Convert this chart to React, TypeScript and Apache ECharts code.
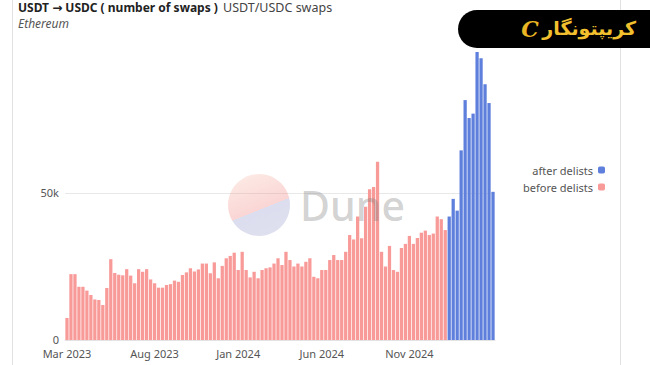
import React, { useEffect, useRef } from 'react';
import * as echarts from 'echarts';

// Weekly buckets (week start dates)
const firstWeek = '2023-02-27';
const weekCount = 108;

// Number of USDT -> USDC swaps per week
const beforeDelists = [
  7500, 22400, 22400, 18100, 18100, 16800, 15300, 13800, 13600, 11900,
  17700, 27500, 22800, 22200, 22000, 24100, 21900, 19300, 24100, 23200,
  24100, 20600, 19300, 17800, 17800, 18700, 19000, 20200, 19800, 22100,
  23000, 24400, 23300, 24000, 26000, 26000, 22700, 26400, 21000, 25200,
  27800, 28600, 29700, 23800, 30000, 23800, 21300, 23200, 21000, 23800,
  24400, 24700, 26000, 27800, 25500, 30000, 27200, 25000, 26000, 25000,
  26600, 27800, 21500, 21000, 23800, 23800, 27200, 28900, 27200, 27200,
  30000, 35700, 34200, 42000, 34600, 45300, 51300, 52000, 60600, 30000,
  25000, 32000, 23800, 23200, 31300, 32700, 35400, 32700, 34700, 36500,
  37200, 35700, 36200, 42000, 41100, 37400,
];
const afterDelists = [42000, 48000, 44000, 64500, 81600, 75500, 77000, 98000, 95800, 87000, 80600, 50400];

// x tick labels
const tickIndices = [0, 22, 43, 64, 86];
const tickLabels = ['Mar 2023', 'Aug 2023', 'Jan 2024', 'Jun 2024', 'Nov 2024'];
// y tick labels
const yTickValues = [0, 50000];
const yTickLabels = ['0', '50k'];

const seriesNames = ['after delists', 'before delists'];
const colors = { after: '#5E7FDC', before: '#F89A98' };

const FONT = '"Noto Sans", "DejaVu Sans", sans-serif';

function buildWeeks(): string[] {
  const start = new Date(firstWeek + 'T00:00:00Z').getTime();
  const out: string[] = [];
  for (let i = 0; i < weekCount; i++) {
    const d = new Date(start + i * 7 * 86400000);
    out.push(d.toISOString().slice(0, 10));
  }
  return out;
}

export default function App() {
  const ref = useRef<HTMLDivElement>(null);

  useEffect(() => {
    if (!ref.current) return;
    const chart = echarts.init(ref.current, null, { renderer: 'svg' });
    const weeks = buildWeeks();
    const nBefore = beforeDelists.length;
    const beforeData = weeks.map((_, i) => (i < nBefore ? beforeDelists[i] : '-'));
    const afterData = weeks.map((_, i) => (i >= nBefore && i - nBefore < afterDelists.length ? afterDelists[i - nBefore] : '-'));

    chart.setOption({
      animation: false,
      backgroundColor: '#ffffff',
      textStyle: { fontFamily: FONT },
      grid: { left: 65, right: 155, top: 46, bottom: 25, containLabel: false },
      legend: {
        data: seriesNames,
        orient: 'vertical',
        right: 40,
        top: 159,
        align: 'right',
        icon: 'roundRect',
        itemWidth: 7,
        itemHeight: 7,
        itemGap: 5,
        textStyle: { fontSize: 11, color: '#555', fontFamily: FONT, lineHeight: 12 },
        selectedMode: false,
      },
      xAxis: {
        type: 'category',
        data: weeks,
        axisTick: { show: false },
        axisLine: { show: true, lineStyle: { color: '#e3e3e3' } },
        axisLabel: {
          interval: (index: number) => tickIndices.includes(index),
          formatter: (_v: string, index: number) => {
            const k = tickIndices.indexOf(index);
            return k >= 0 ? tickLabels[k] : '';
          },
          fontSize: 11,
          color: '#555',
          margin: 8,
          fontFamily: FONT,
          hideOverlap: false,
        },
        splitLine: { show: false },
      },
      yAxis: {
        type: 'value',
        min: 0,
        max: 100000,
        interval: 50000,
        axisLine: { show: false },
        axisTick: { show: false },
        splitLine: { show: true, showMinLine: false, showMaxLine: false, lineStyle: { color: '#e8e8e8', width: 1 } },
        axisLabel: {
          fontSize: 11,
          color: '#555',
          margin: 6,
          fontFamily: FONT,
          verticalAlign: 'bottom',
          formatter: (v: number) => {
            const k = yTickValues.indexOf(v);
            return k >= 0 ? yTickLabels[k] : '';
          },
          padding: [0, 0, -5, 0],
        },
      },
      series: [
        {
          name: seriesNames[0],
          type: 'bar',
          stack: 'swaps',
          data: afterData,
          itemStyle: { color: colors.after },
          barCategoryGap: '18%',
        },
        {
          name: seriesNames[1],
          type: 'bar',
          stack: 'swaps',
          data: beforeData,
          itemStyle: { color: colors.before },
          barCategoryGap: '18%',
        },
      ],
      graphic: [
        // card frame lines
        { type: 'line', z: 1, shape: { x1: 12.5, y1: 0, x2: 12.5, y2: 365 }, style: { stroke: '#e2e2e2', lineWidth: 1 } },
        { type: 'line', z: 1, shape: { x1: 620.5, y1: 0, x2: 620.5, y2: 365 }, style: { stroke: '#e2e2e2', lineWidth: 1 } },
        // titles
        {
          type: 'text', x: 18, y: 7, z: 10,
          style: { text: 'USDT → USDC ( number of swaps )', fontSize: 12, fontWeight: 'bold', fontFamily: FONT, fill: '#222', verticalAlign: 'middle' },
        },
        {
          type: 'text', x: 223, y: 7, z: 10,
          style: { text: 'USDT/USDC swaps', fontSize: 12.5, fontFamily: FONT, fill: '#444', verticalAlign: 'middle' },
        },
        {
          type: 'text', x: 18, y: 23, z: 10,
          style: { text: 'Ethereum', fontSize: 12, fontStyle: 'italic', fontFamily: FONT, fill: '#555', verticalAlign: 'middle' },
        },
        // Dune watermark
        {
          type: 'circle', z: 100,
          shape: { cx: 259, cy: 205, r: 31 },
          style: {
            opacity: 0.28,
            fill: new echarts.graphic.LinearGradient(0.3, 0, 0.7, 1, [
              { offset: 0, color: '#f7b29f' },
              { offset: 0.57, color: '#ec6a66' },
              { offset: 0.57, color: '#8088c4' },
              { offset: 1, color: '#8a90c8' },
            ]),
          },
        },
        {
          type: 'text', x: 300, y: 205, z: 100,
          style: { text: 'Dune', fontSize: 41, fontWeight: 500, fontFamily: FONT, fill: '#777', opacity: 0.32, verticalAlign: 'middle' },
        },
        // logo badge
        {
          type: 'rect', z: 200,
          shape: { x: 458, y: 10, width: 220, height: 38, r: 19 },
          style: { fill: '#000' },
        },
        {
          type: 'text', x: 530, y: 29, z: 201,
          style: { text: 'C', fontSize: 22, fontWeight: 'bold', fontStyle: 'italic', fontFamily: '"DejaVu Serif", serif', fill: '#E9B523', align: 'center', verticalAlign: 'middle' },
        },
        {
          type: 'text', x: 636, y: 28, z: 201,
          style: { text: 'کریپتونگار', fontSize: 19, fontWeight: 'bold', fontFamily: '"DejaVu Sans", sans-serif', fill: '#F2C02E', align: 'right', verticalAlign: 'middle' },
        },
      ],
    });

    return () => chart.dispose();
  }, []);

  return <div ref={ref} style={{ position: 'absolute', left: 0, top: 0, width: 650, height: 365 }} />;
}
